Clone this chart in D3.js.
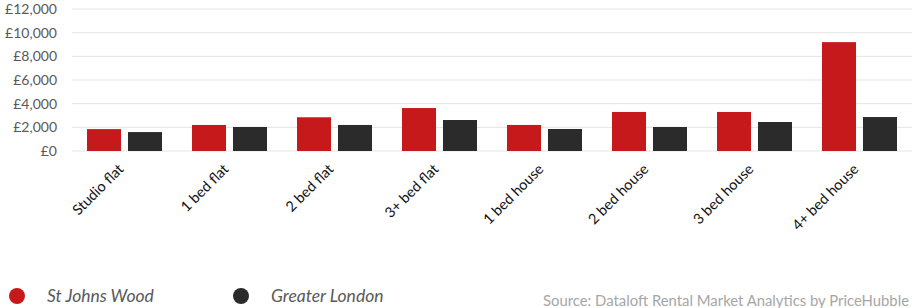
<!DOCTYPE html>
<html><head><meta charset="utf-8">
<script src="https://cdn.jsdelivr.net/npm/d3@7"></script>
<style>body{margin:0;background:#fff;}svg{display:block;font-family:Lato, "Open Sans", sans-serif;}</style>
</head><body><svg id="c" width="912" height="308"></svg>
<script>
const categories = ["Studio flat","1 bed flat","2 bed flat","3+ bed flat","1 bed house","2 bed house","3 bed house","4+ bed house"];
const stJohnsWood = [1850,2200,2850,3630,2200,3300,3300,9200];
const greaterLondon = [1600,2030,2200,2620,1860,2030,2450,2870];
const yTicks = [0,2000,4000,6000,8000,10000,12000];
const seriesNames = ["St Johns Wood","Greater London"];
const colors = ["#c5191b","#2b2b2b"];

const svg = d3.select("#c");
const x = d3.scaleBand().domain(categories).range([73,913]).paddingInner(0).paddingOuter(0);
const x1 = d3.scaleBand().domain([0,1]).range([14,89]).paddingInner(0.17);
const y = d3.scaleLinear().domain([0,12000]).range([151,9]);

svg.append("g").selectAll("line").data(yTicks).join("line")
  .attr("x1",72).attr("x2",912).attr("y1",d=>y(d)).attr("y2",d=>y(d))
  .attr("stroke","#e3e3e3").attr("stroke-width",1);

svg.append("g").selectAll("text").data(yTicks).join("text")
  .attr("x",57).attr("y",d=>y(d)).attr("dy","0.35em").attr("text-anchor","end")
  .attr("fill","#595959").attr("font-size",14)
  .text(d=>"£"+d3.format(",")(d));

const data = categories.map((c,i)=>({c, v:[stJohnsWood[i],greaterLondon[i]]}));
const g = svg.append("g").selectAll("g").data(data).join("g")
  .attr("transform",d=>`translate(${x(d.c)},0)`);
g.selectAll("rect").data(d=>d.v.map((v,k)=>({v,k}))).join("rect")
  .attr("x",d=>x1(d.k)).attr("width",x1.bandwidth())
  .attr("y",d=>y(d.v)).attr("height",d=>y(0)-y(d.v))
  .attr("fill",d=>colors[d.k]);

svg.append("g").selectAll("text").data(categories).join("text")
  .attr("transform",d=>`translate(${x(d)+x.bandwidth()/2-1},170) rotate(-45)`)
  .attr("text-anchor","end").attr("fill","#111").attr("font-size",14.5)
  .text(d=>d);

const lg = svg.append("g");
const lx = [17,241];
seriesNames.forEach((s,i)=>{
  lg.append("circle").attr("cx",lx[i]).attr("cy",296).attr("r",8).attr("fill",colors[i]);
  lg.append("text").attr("x",lx[i]+30).attr("y",296).attr("dy","0.35em")
    .attr("font-style","italic").attr("font-size",17.5).attr("fill","#595959").text(s);
});
svg.append("text").attr("x",543).attr("y",306).attr("font-size",14.5).attr("fill","#a6a6a6")
  .attr("textLength",366).attr("lengthAdjust","spacingAndGlyphs")
  .text("Source: Dataloft Rental Market Analytics by PriceHubble");
</script></body></html>
